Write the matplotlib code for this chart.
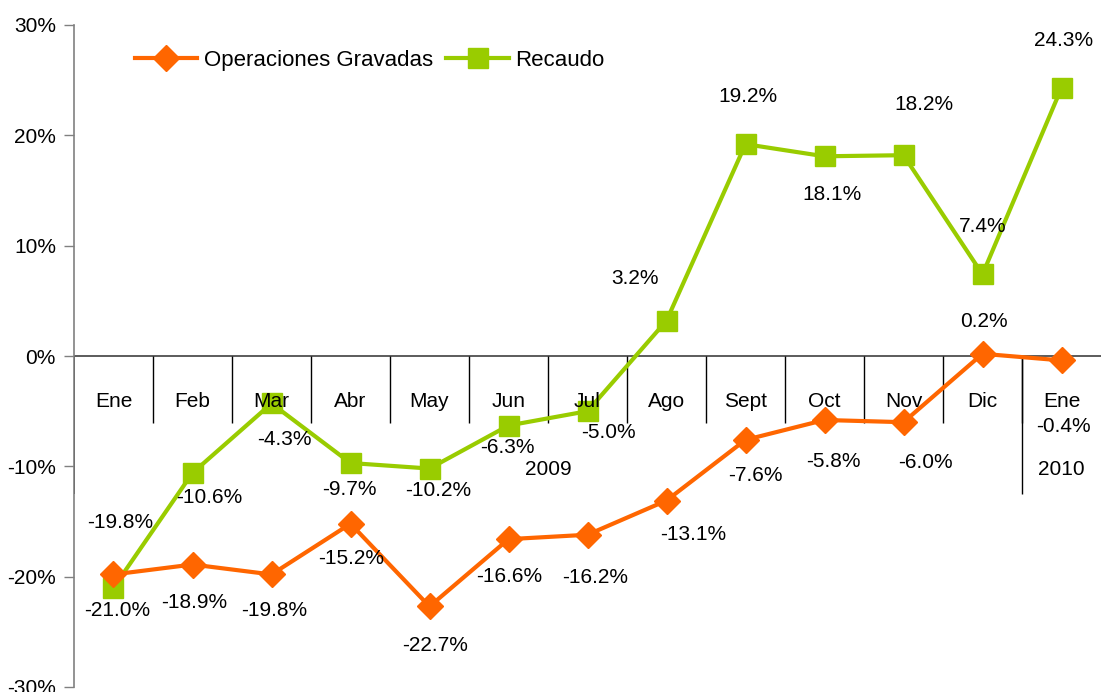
import matplotlib.pyplot as plt
import numpy as np

# Data
meses = ["Ene", "Feb", "Mar", "Abr", "May", "Jun", "Jul", "Ago", "Sept", "Oct", "Nov", "Dic", "Ene"]
operaciones = [-19.8, -18.9, -19.8, -15.2, -22.7, -16.6, -16.2, -13.1, -7.6, -5.8, -6.0, 0.2, -0.4]
recaudo = [-21.0, -10.6, -4.3, -9.7, -10.2, -6.3, -5.0, 3.2, 19.2, 18.1, 18.2, 7.4, 24.3]
yticks = [30, 20, 10, 0, -10, -20, -30]

# label offsets in pixels (dx, dy), dy positive = up
off_op = [(7, 52), (2, -38), (3, -36), (1, -35), (6, -39), (1, -37), (8, -43), (27, -34),
          (10, -36), (9, -42), (22, -40), (1, 32), (2, -66)]
off_rec = [(4, -23), (17, -25), (13, -36), (-1, -26), (9, -22), (-1, -22), (21, -21), (-31, 42),
           (2, 48), (7, -38), (20, 51), (0, 48), (2, 47)]

naranja = "#FF6600"
verde = "#99CC00"
fs = 15

plt.rcParams['font.family'] = ['Liberation Sans', 'DejaVu Sans']

fig = plt.figure(figsize=(11.01, 6.92), dpi=100)
ax = fig.add_axes([74 / 1101, 5 / 692, 1027 / 1101, 662 / 692])

x = np.arange(len(meses))
ax.plot(x, operaciones, color=naranja, lw=3, marker="D", ms=13, label="Operaciones Gravadas", zorder=4)
ax.plot(x, recaudo, color=verde, lw=3, marker="s", ms=15, label="Recaudo", zorder=3)

for i in range(len(meses)):
    ax.annotate(f"{operaciones[i]:.1f}%", (x[i], operaciones[i]), xytext=off_op[i],
                textcoords="offset pixels", ha="center", va="center", fontsize=fs, zorder=6)
    ax.annotate(f"{recaudo[i]:.1f}%", (x[i], recaudo[i]), xytext=off_rec[i],
                textcoords="offset pixels", ha="center", va="center", fontsize=fs, zorder=6)

ax.set_xlim(-0.5, len(meses) - 0.5)
ax.set_ylim(-30, 30)

# category axis at zero
ax.axhline(0, color="#404040", lw=1.2, zorder=2)
for i, m in enumerate(meses):
    ax.text(x[i], -4.1, m, ha="center", va="center", fontsize=fs, zorder=5)
for b in range(1, len(meses)):
    ax.vlines(b - 0.5, -6.1, 0, color="black", lw=1, zorder=2)
ax.vlines(-0.5, -12.5, 0, color="black", lw=1.2, zorder=2)
ax.vlines(len(meses) - 1.5, -12.5, 0, color="black", lw=1, zorder=2)
ax.text(5.5, -10.3, "2009", ha="center", va="center", fontsize=fs)
ax.text(12, -10.3, "2010", ha="center", va="center", fontsize=fs)

ax.set_yticks(yticks)
ax.set_yticklabels([f"{t}%" for t in yticks], fontsize=fs)
ax.tick_params(axis="y", direction="out", length=7, width=1, color="#808080", pad=6)
ax.set_xticks([])
for s in ["top", "right", "bottom"]:
    ax.spines[s].set_visible(False)
ax.spines["left"].set_color("#808080")
ax.spines["left"].set_linewidth(1.2)

ax.legend(loc="upper left", bbox_to_anchor=(0.04, 0.993), ncol=2, frameon=False, fontsize=16,
          handlelength=2.8, columnspacing=0.6, handletextpad=0.3)

fig.savefig("out.png", dpi=100)
